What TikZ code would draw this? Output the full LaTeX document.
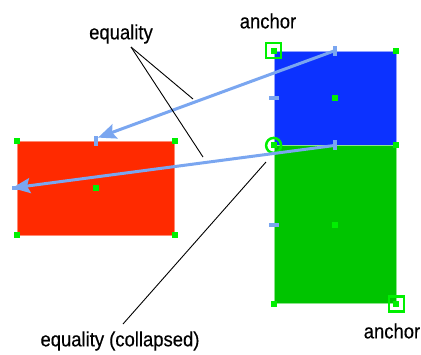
\documentclass[tikz,border=0pt]{standalone}
\usepackage{fontspec}
\setmainfont{Liberation Sans}
\usepackage{tikz}
\usetikzlibrary{arrows.meta, positioning, calc}

\definecolor{boxred}{RGB}{255,42,0}
\definecolor{boxblue}{RGB}{12,50,255}
\definecolor{boxgreen}{RGB}{0,196,0}
\definecolor{hgreen}{RGB}{0,240,0}
\definecolor{linkblue}{RGB}{122,166,240}

\begin{document}
\begin{tikzpicture}[
    x=1pt, y=-1pt,
    shape box/.style={rectangle, inner sep=0pt, line width=0.8pt},
    handle/.style={rectangle, fill=hgreen, minimum size=6pt, inner sep=0pt},
    vtick/.style={rectangle, fill=linkblue, minimum width=4pt, minimum height=10pt, inner sep=0pt},
    htick/.style={rectangle, fill=linkblue, minimum width=10pt, minimum height=4pt, inner sep=0pt},
    anchorbox/.style={rectangle, draw=hgreen, line width=2.5pt, minimum size=15pt, inner sep=0pt},
    anchorring/.style={circle, draw=hgreen, line width=2.5pt, minimum size=15pt, inner sep=0pt},
    link/.style={-{Stealth[length=18pt,width=15pt,inset=3pt]}, line width=3pt, linkblue},
    lbl/.style={font=\addfontfeatures{FakeStretch=0.9,FakeBold=0.4}\fontsize{20.5}{24}\selectfont, inner sep=0pt},
    callout/.style={black, line width=0.9pt},
]
    \useasboundingbox (0,0) rectangle (421,354);

    % Boxes
    \node[shape box, fill=boxred, draw=boxred!55!white, minimum width=157pt, minimum height=94pt] (red) at (96,188) {};
    \node[shape box, fill=boxblue, draw=boxblue!45!white, minimum width=122pt, minimum height=94pt] (blue) at (335,98) {};
    \node[shape box, fill=boxgreen, draw=boxgreen!45!white, minimum width=122pt, minimum height=158pt, below=0pt of blue] (green) {};

    % Anchor marks
    \node[anchorbox] (topanchor) at (blue.north west) {};
    \node[anchorbox] (botanchor) at (green.south east) {};
    \node[anchorring] (collapsed) at (green.north west) {};

    % Handles on the red box
    \node[handle] (rnw) at (red.north west) {};
    \node[handle] (rne) at (red.north east) {};
    \node[handle] (rsw) at (red.south west) {};
    \node[handle] (rse) at (red.south east) {};
    \node[handle] (rc)  at (red.center) {};

    % Handles on the blue and green boxes
    \node[handle] (bnw) at (blue.north west) {};
    \node[handle] (bne) at (blue.north east) {};
    \node[handle] (bse) at (blue.south east) {};
    \node[handle] (bc)  at (blue.center) {};
    \node[handle] (gnw) at (green.north west) {};
    \node[handle] (gsw) at (green.south west) {};
    \node[handle] (gse) at (green.south east) {};
    \node[handle] (gc)  at (green.center) {};

    % Attachment ticks
    \node[vtick] (tbn) at (blue.north) {};
    \node[vtick] (tbs) at (blue.south) {};
    \node[htick] (tbw) at (blue.west) {};
    \node[htick] (tgw) at (green.west) {};
    \node[vtick] (trn) at (red.north) {};
    \node[htick] (trw) at (red.west) {};

    % Equalities
    \draw[link] (tbn.center) -- ($(trn.center)+(2,-3)$);
    \draw[link] (tbs.center) -- ($(trw.center)+(-5,0)$);

    % Labels
    \node[lbl] (anchtop) at (268,21) {anchor};
    \node[lbl] (anchbot) at (392,331) {anchor};
    \node[lbl] (eq) at (121,34) {equality};
    \node[lbl] (eqc) at (120,341) {equality (collapsed)};

    % Callout lines
    \coordinate (eqfoot) at (131,47);
    \coordinate (eqend1) at (193,99);
    \coordinate (eqend2) at (203,157);
    \coordinate (eqcfoot) at (123,324);
    \coordinate (eqcend) at (266,162);
    \draw[callout] (eqfoot) -- (eqend1);
    \draw[callout] (eqfoot) -- (eqend2);
    \draw[callout] (eqcfoot) -- (eqcend);
\end{tikzpicture}
\end{document}
